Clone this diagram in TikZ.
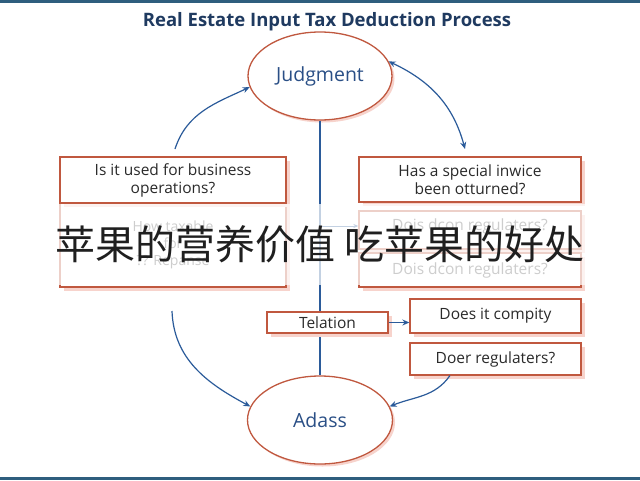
\documentclass[tikz,border=0pt]{standalone}
\usepackage{fontspec}
\setmainfont{Open Sans}
\newfontfamily\cjk{Noto Sans CJK SC}
\usetikzlibrary{arrows.meta,shadows,shapes.geometric}
\definecolor{bord}{HTML}{C0583F}
\definecolor{shad}{HTML}{F7D3CC}
\definecolor{lineblue}{HTML}{2B5B9A}
\definecolor{navy}{HTML}{1F3A60}
\definecolor{ovalblue}{HTML}{2A4F86}
\definecolor{topline}{HTML}{2E5E7E}
\definecolor{boxtext}{HTML}{2A2A2A}
\tikzset{
  qbox/.style={draw=bord, line width=1.3pt, fill=white, rectangle, align=center,
    text=boxtext, font=\fontsize{15.5}{18}\selectfont, inner sep=1pt,
    drop shadow={shadow xshift=3.5pt, shadow yshift=-3.5pt, fill=shad, opacity=1}},
  ovalbox/.style={draw=bord, line width=1.3pt, fill=white, ellipse, inner sep=0pt,
    text=ovalblue, font=\fontsize{19.5}{22}\selectfont,
    drop shadow={shadow xshift=2.5pt, shadow yshift=-2.5pt, fill=shad, opacity=1}},
  conn/.style={draw=lineblue, line width=1.2pt},
  arr/.style={conn, -{Stealth[length=7pt,width=6pt]}},
  ghost/.style={text=black!70, font=\fontsize{15.5}{18}\selectfont}
}
\begin{document}
\begin{tikzpicture}[x=1pt,y=-1pt]
\useasboundingbox (0,0) rectangle (640,480);
\fill[white] (0,0) rectangle (640,480);
% frame lines
\draw[topline, line width=3pt] (0,1.2) -- (640,1.2);
\draw[topline, line width=3pt] (0,478.5) -- (640,478.5);
% title
\node[text=navy, font=\fontsize{18.5}{22}\selectfont\bfseries] (title) at (327,22) {Real Estate Input Tax Deduction Process};
% ovals
\node[ovalbox, minimum width=144pt, minimum height=88pt] (judg) at (320,76) {Judgment};
\node[ovalbox, minimum width=145pt, minimum height=88pt] (adass) at (320,420) {Adass};
% vertical connector
\draw[conn] (judg.south) -- (adass.north);
% left boxes
\node[qbox, minimum width=226pt, minimum height=84pt] (q1b) at (173,245) {};
\node[qbox, minimum width=226pt, minimum height=46pt, drop shadow={opacity=0}] (q1) at (173,180) {Is it used for business\\operations?};
\node[ghost, align=center, font=\fontsize{14}{17}\selectfont] (q1g) at (173,245) {How taxable\\for\\?? Repanse};
% right boxes
\node[qbox, minimum width=222pt, minimum height=45pt] (q2) at (470,179.5) {Has a special inwice\\been otturned?};
\node[qbox, minimum width=222pt, minimum height=38pt] (g1) at (470,230) {};
\node[ghost] (g1t) at (470,226) {Dois dcon regulaters?};
\node[qbox, minimum width=222pt, minimum height=34pt] (g2) at (470,270) {};
\node[ghost] (g2t) at (470,270) {Dois dcon regulaters?};
\draw[arr, -{Stealth[length=5pt,width=4pt]}, line width=0.9pt] (judg.south |- g1t.west) -- (g1.west |- g1t.west);
% telation and right small boxes
\node[qbox, minimum width=121pt, minimum height=21pt] (tel) at (327.5,322.5) {Telation};
\node[qbox, minimum width=171pt, minimum height=34pt] (does) at (495.5,316) {Does it compity};
\node[qbox, minimum width=171pt, minimum height=32pt] (doer) at (495.5,359) {Doer regulaters?};
\draw[arr] (tel.east) -- (tel.east -| does.west);
% curved arrows
\coordinate (a1) at (175,149);
\coordinate (a3) at (172,311);
\coordinate (a4) at (450,375.5);
\draw[arr] (a1) to[out=72,in=205] (judg.189);
\draw[conn, {Stealth[length=7pt,width=6pt]}-{Stealth[length=7pt,width=6pt]}] (judg.12) to[out=-25,in=105] (465,149);
\draw[arr] (a3) to[out=-88,in=152] (adass.169);
\draw[arr] (a4) to[out=-125,in=22] (adass.11);
% faded band
\fill[white, opacity=0.72] (0,204) rectangle (640,284.5);
% overlay caption
\node[text=black!88, font=\cjk\fontsize{40}{44}\selectfont] (cap) at (320,244) {苹果的营养价值 吃苹果的好处};
\end{tikzpicture}
\end{document}
